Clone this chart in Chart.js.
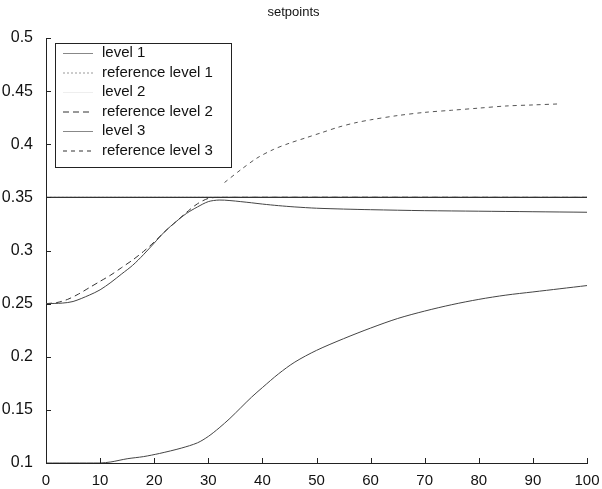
<!DOCTYPE html>
<html lang="en">
  <head>
    <meta charset="UTF-8" />
    <title>setpoints</title>
    <script src="https://cdn.jsdelivr.net/npm/chart.js@4.4.0/dist/chart.umd.min.js"></script>
    <style>
      html, body { margin: 0; padding: 0; background: #fff; }
      .chart-view { width: 602px; height: 489px; }
    </style>
  </head>
  <body>
    <div class="chart-view">
      <canvas id="chart" width="602" height="489"></canvas>
    </div>

    <script>
      //data
      const xTicks = [0, 10, 20, 30, 40, 50, 60, 70, 80, 90, 100];
      const yTicks = [0.1, 0.15, 0.2, 0.25, 0.3, 0.35, 0.4, 0.45, 0.5];

      const level1X = [0, 100];
      const level1Y = [0.35, 0.35];

      const refLevel1X = [0, 100];
      const refLevel1Y = [0.35, 0.35];

      const level2X = [0, 3, 5, 8, 10, 12, 14, 16, 18, 20, 22, 24, 26, 28, 30, 32, 34, 36, 38, 40, 43, 46, 50, 55, 60, 70, 80, 90, 100];
      const level2Y = [0.25, 0.2505, 0.252, 0.258, 0.263, 0.27, 0.278, 0.286, 0.296, 0.307, 0.318, 0.327, 0.335, 0.341, 0.346, 0.3475, 0.347, 0.346, 0.3449, 0.3437, 0.3422, 0.341, 0.3398, 0.339, 0.3384, 0.3375, 0.337, 0.3365, 0.336];

      const refLevel2X = [0, 2, 4, 6, 8, 10, 12, 14, 16, 18, 20, 22, 24, 26, 28, 30, 32, 100];
      const refLevel2Y = [0.25, 0.251, 0.254, 0.259, 0.265, 0.271, 0.277, 0.284, 0.291, 0.299, 0.308, 0.318, 0.327, 0.336, 0.344, 0.349, 0.35, 0.35];

      const level3X = [0, 5, 10, 12, 15, 18, 21, 25, 28, 30, 32, 34, 36, 38, 40, 43, 46, 50, 55, 60, 65, 70, 75, 80, 85, 90, 95, 100];
      const level3Y = [0.1, 0.1, 0.1, 0.101, 0.104, 0.106, 0.109, 0.114, 0.119, 0.125, 0.133, 0.142, 0.152, 0.162, 0.171, 0.184, 0.195, 0.206, 0.217, 0.227, 0.236, 0.243, 0.249, 0.254, 0.258, 0.261, 0.264, 0.267];

      const refLevel3X = [33, 36, 39, 42, 45, 48, 51, 54, 57, 60, 65, 70, 75, 80, 85, 90, 95];
      const refLevel3Y = [0.364, 0.376, 0.387, 0.395, 0.401, 0.406, 0.411, 0.416, 0.42, 0.423, 0.427, 0.43, 0.432, 0.434, 0.436, 0.437, 0.438];

      const pts = (xs, ys) => xs.map((x, i) => ({ x: x, y: ys[i] }));
      const FONT = "'Liberation Sans', Arial, sans-serif";

      // legend drawn inside the axes, matlab style
      const boxLegend = {
        id: 'boxLegend',
        afterDraw(chart) {
          const c = chart.ctx;
          const x0 = 55, y0 = 43, w = 176, h = 124, row = 19.5;
          c.save();
          c.fillStyle = '#fff';
          c.fillRect(x0, y0, w, h);
          c.strokeStyle = '#222';
          c.lineWidth = 1;
          c.strokeRect(x0 + 0.5, y0 + 0.5, w, h);
          c.font = '15px ' + FONT;
          c.textBaseline = 'middle';
          chart.data.datasets.forEach((ds, i) => {
            const y = y0 + 10 + i * row;
            c.strokeStyle = ds.legendColor;
            c.lineWidth = 1;
            c.setLineDash(ds.borderDash || []);
            c.beginPath();
            c.moveTo(63, y + 0.5);
            c.lineTo(93, y + 0.5);
            c.stroke();
            c.setLineDash([]);
            c.fillStyle = '#111';
            c.fillText(ds.label, 102, y);
          });
          c.restore();
        }
      };

      // inward tick marks
      const innerTicks = {
        id: 'innerTicks',
        afterDraw(chart) {
          const c = chart.ctx;
          const xs = chart.scales.x, ys = chart.scales.y;
          const a = chart.chartArea;
          c.save();
          c.strokeStyle = '#222';
          c.lineWidth = 1;
          c.beginPath();
          xTicks.forEach((v) => {
            const p = Math.round(xs.getPixelForValue(v)) + 0.5;
            c.moveTo(p, a.bottom);
            c.lineTo(p, a.bottom - 5);
          });
          yTicks.forEach((v) => {
            const p = Math.round(ys.getPixelForValue(v)) + 0.5;
            c.moveTo(a.left, p);
            c.lineTo(a.left + 5, p);
          });
          c.stroke();
          c.restore();
        }
      };

      //config
      const config = {
        type: 'line',
        data: {
          datasets: [
            { label: 'level 1', data: pts(level1X, level1Y), borderColor: '#333', legendColor: '#888', borderWidth: 1.4 },
            { label: 'reference level 1', data: pts(refLevel1X, refLevel1Y), borderColor: '#777', legendColor: '#999', borderWidth: 1, borderDash: [2, 2] },
            { label: 'level 2', data: pts(level2X, level2Y), borderColor: '#444', legendColor: '#eee', borderWidth: 1 },
            { label: 'reference level 2', data: pts(refLevel2X, refLevel2Y), borderColor: '#333', legendColor: '#333', borderWidth: 1, borderDash: [6, 4] },
            { label: 'level 3', data: pts(level3X, level3Y), borderColor: '#444', legendColor: '#888', borderWidth: 1 },
            { label: 'reference level 3', data: pts(refLevel3X, refLevel3Y), borderColor: '#555', legendColor: '#333', borderWidth: 1, borderDash: [4, 4] }
          ]
        },
        options: {
          responsive: false,
          animation: false,
          events: [],
          layout: { padding: { left: 0, right: 15, top: 0, bottom: 0 } },
          elements: { point: { radius: 0 }, line: { tension: 0.3 } },
          plugins: {
            legend: { display: false },
            tooltip: { enabled: false },
            title: {
              display: true,
              text: 'setpoints',
              color: '#111',
              font: { family: FONT, size: 13, weight: 'normal' },
              padding: { top: 5, bottom: 17.4 }
            }
          },
          scales: {
            x: {
              type: 'linear',
              min: 0,
              max: 100,
              afterBuildTicks: (s) => { s.ticks = xTicks.map((v) => ({ value: v })); },
              afterFit: (s) => { s.height = 26; },
              grid: { display: false },
              border: { display: true, color: '#222', width: 1 },
              ticks: { color: '#111', padding: 1, font: { family: FONT, size: 15 }, maxRotation: 0, autoSkip: false }
            },
            y: {
              type: 'linear',
              min: 0.1,
              max: 0.5,
              afterBuildTicks: (s) => { s.ticks = yTicks.map((v) => ({ value: v })); },
              afterFit: (s) => { s.width = 46; },
              grid: { display: false },
              border: { display: true, color: '#222', width: 1 },
              ticks: {
                color: '#111',
                padding: 5,
                font: { family: FONT, size: 16 },
                autoSkip: false,
                callback: (v) => String(Number(v.toFixed(2)))
              }
            }
          }
        },
        plugins: [innerTicks, boxLegend]
      };

      //init
      const ctx = document.getElementById('chart');
      const chart = new Chart(ctx, config);
    </script>
  </body>
</html>
